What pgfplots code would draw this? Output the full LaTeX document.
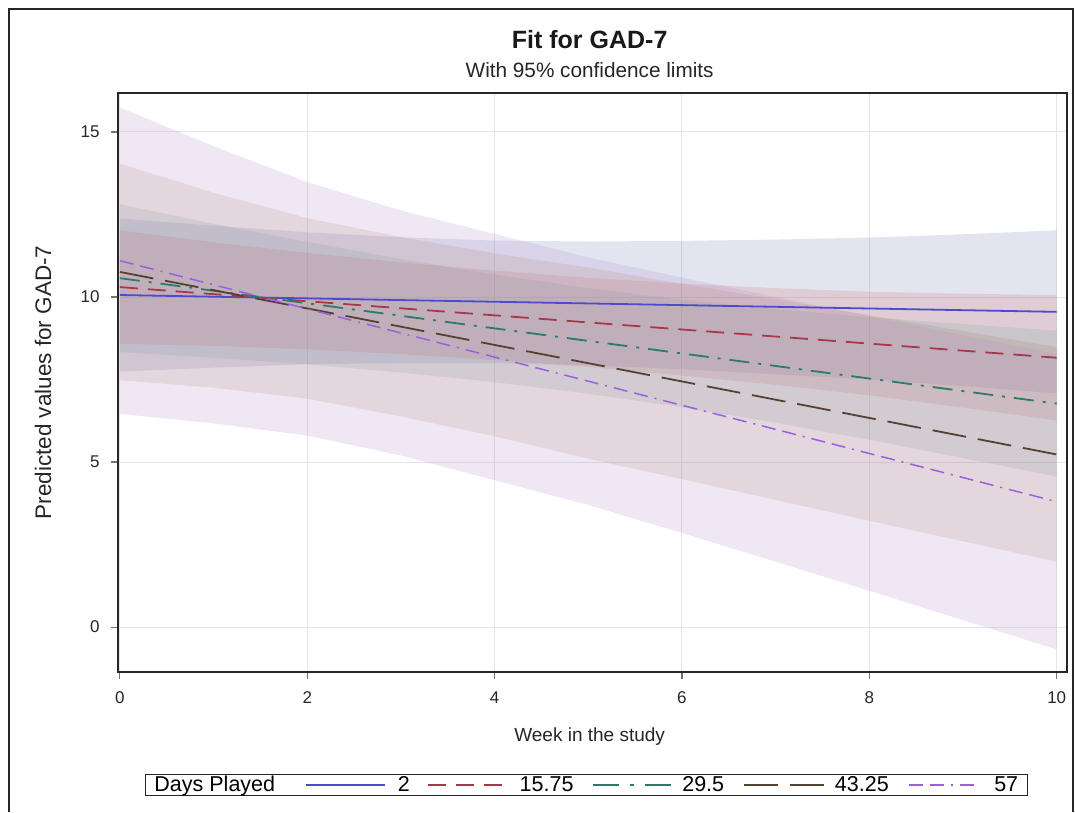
\documentclass[border=0pt]{standalone}
\usepackage{pgfplots}
\pgfplotsset{compat=1.18}
\usepackage{fontspec}
\setmainfont{Liberation Sans}

\definecolor{fblue}{HTML}{6F7EB3}
\definecolor{fred}{HTML}{D05B5B}
\definecolor{fgreen}{HTML}{66A5A0}
\definecolor{fbrown}{HTML}{A9865B}
\definecolor{fpurple}{HTML}{B689CD}
\definecolor{lblue}{HTML}{4B4BCF}
\definecolor{lred}{HTML}{A8374A}
\definecolor{lgreen}{HTML}{2C7A68}
\definecolor{lbrown}{HTML}{55412F}
\definecolor{lpurple}{HTML}{9A60DE}

\pgfplotsset{
  legA/.style={legend image code/.code={\path (-28pt,0pt) (89pt,0pt);
    \draw[##1, line width=1.5pt] (0pt,0pt) -- (79pt,0pt);}},
  legB/.style={legend image code/.code={\path (-15pt,0pt) (89pt,0pt);
    \draw[##1, line width=1.5pt] (0pt,0pt) -- (74pt,0pt);}},
  legC/.style={legend image code/.code={\path (-17pt,0pt) (86pt,0pt);
    \draw[##1, line width=1.5pt, dash pattern=on 26pt off 11pt on 4pt off 11pt] (0pt,0pt) -- (78pt,0pt);}},
  legD/.style={legend image code/.code={\path (-17pt,0pt) (88pt,0pt);
    \draw[##1, line width=1.5pt] (0pt,0pt) -- (80pt,0pt);}},
  legE/.style={legend image code/.code={\path (-17pt,0pt) (83pt,0pt);
    \draw[##1, line width=1.5pt] (0pt,0pt) -- (69pt,0pt);}},
}

\begin{document}
\begin{tikzpicture}
\path[use as bounding box] (0,0) rectangle (1075pt,812pt);
\draw[line width=1.3pt, black!85] (9pt,0pt) -- (9pt,803pt) -- (1073pt,803pt) -- (1073pt,0pt);
\begin{axis}[
  at={(118pt,140pt)}, anchor=south west,
  scale only axis, width=949pt, height=579pt,
  xmin=-0.02, xmax=10.11, ymin=-1.36, ymax=16.18,
  xtick={0,2,4,6,8,10}, ytick={0,5,10,15},
  grid=major, major grid style={draw=black!10, line width=1pt},
  axis line style={line width=1.6pt, draw=black!85},
  tick align=outside, major tick length=7pt,
  tick style={line width=1.2pt, draw=black!55},
  xtick pos=bottom, ytick pos=left,
  /pgf/number format/assume math mode=true,
  ticklabel style={font=\fontsize{17}{19}\selectfont, text=black!85},
  yticklabel style={xshift=-8pt},
  xticklabel style={yshift=-9pt},
  xlabel={Week in the study},
  ylabel={Predicted values for GAD-7},
  xlabel style={font=\fontsize{19}{22}\selectfont, text=black!85,
    at={(axis description cs:0.497,-0.112)}, anchor=center},
  ylabel style={font=\fontsize{22.5}{25}\selectfont, text=black!85,
    at={(axis description cs:-0.079,0.5)}, anchor=center},
  legend columns=-1,
  legend style={at={(axis description cs:0.4935,-0.195)}, anchor=center,
    draw=black!85, line width=1.3pt, font=\fontsize{21.5}{24}\selectfont,
    inner xsep=7pt, inner ysep=0pt},
  legend cell align=left,
  clip mode=individual,
]
\addlegendimage{empty legend}
\addlegendentry{Days Played}

% band, Days played = 2 (upper x=0..10, then lower x=10..0)
\addplot[fill=fblue, fill opacity=0.2, draw=none, forget plot] table {
0 12.38
1 12.16
2 11.96
3 11.81
4 11.71
5 11.68
6 11.70
7 11.74
8 11.80
9 11.90
10 12.02
10 7.08
9 7.30
8 7.50
7 7.66
6 7.81
5 7.93
4 8.00
3 8.00
2 7.96
1 7.86
0 7.74
} -- cycle;
% band, Days played = 15.75
\addplot[fill=fred, fill opacity=0.18, draw=none, forget plot] table {
0 12.02
1 11.66
2 11.34
3 11.05
4 10.80
5 10.58
6 10.41
7 10.27
8 10.16
9 10.10
10 10.06
10 6.26
9 6.65
8 7.02
7 7.34
6 7.62
5 7.88
4 8.09
3 8.27
2 8.41
1 8.52
0 8.58
} -- cycle;
% band, Days played = 29.5
\addplot[fill=fgreen, fill opacity=0.18, draw=none, forget plot] table {
0 12.81
1 12.22
2 11.67
3 11.15
4 10.68
5 10.27
6 9.92
7 9.63
8 9.39
9 9.18
10 8.98
10 4.56
9 5.12
8 5.68
7 6.19
6 6.66
5 7.07
4 7.42
3 7.71
2 7.96
1 8.16
0 8.33
} -- cycle;
% band, Days played = 43.25
\addplot[fill=fbrown, fill opacity=0.18, draw=none, forget plot] table {
0 14.04
1 13.16
2 12.39
3 11.82
4 11.32
5 10.89
6 10.40
7 9.93
8 9.45
9 8.97
10 8.48
10 1.98
9 2.60
8 3.22
7 3.85
6 4.48
5 5.10
4 5.78
3 6.38
2 6.92
1 7.25
0 7.48
} -- cycle;
% band, Days played = 57
\addplot[fill=fpurple, fill opacity=0.2, draw=none, forget plot] table {
0 15.74
1 14.57
2 13.48
3 12.62
4 11.91
5 11.20
6 10.59
7 10.00
8 9.42
9 8.85
10 8.28
10 -0.68
9 0.21
8 1.10
7 1.98
6 2.85
5 3.70
4 4.45
3 5.20
2 5.80
1 6.17
0 6.46
} -- cycle;

\addplot[lblue, line width=1.8pt, legA] coordinates {(0,10.06) (10,9.55)};
\addlegendentry{2}
\addplot[lred, line width=1.8pt, dash pattern=on 18pt off 10pt, legB] coordinates {(0,10.30) (10,8.16)};
\addlegendentry{15.75}
\addplot[lgreen, line width=1.8pt, dash pattern=on 20pt off 9pt on 3pt off 9pt, legC] coordinates {(0,10.57) (10,6.77)};
\addlegendentry{29.5}
\addplot[lbrown, line width=1.8pt, dash pattern=on 34pt off 12pt, legD] coordinates {(0,10.76) (10,5.23)};
\addlegendentry{43.25}
\addplot[lpurple, line width=1.5pt, dash pattern=on 14pt off 7pt on 14pt off 7pt on 2pt off 7pt, legE] coordinates {(0,11.10) (10,3.80)};
\addlegendentry{57}

\node[font=\fontsize{25}{28}\selectfont\bfseries, text=black!90] at (axis description cs:0.497,1.092) {Fit for GAD-7};
\node[font=\fontsize{20.75}{23}\selectfont, text=black!85] at (axis description cs:0.497,1.040) {With 95\% confidence limits};
\end{axis}
\end{tikzpicture}
\end{document}
